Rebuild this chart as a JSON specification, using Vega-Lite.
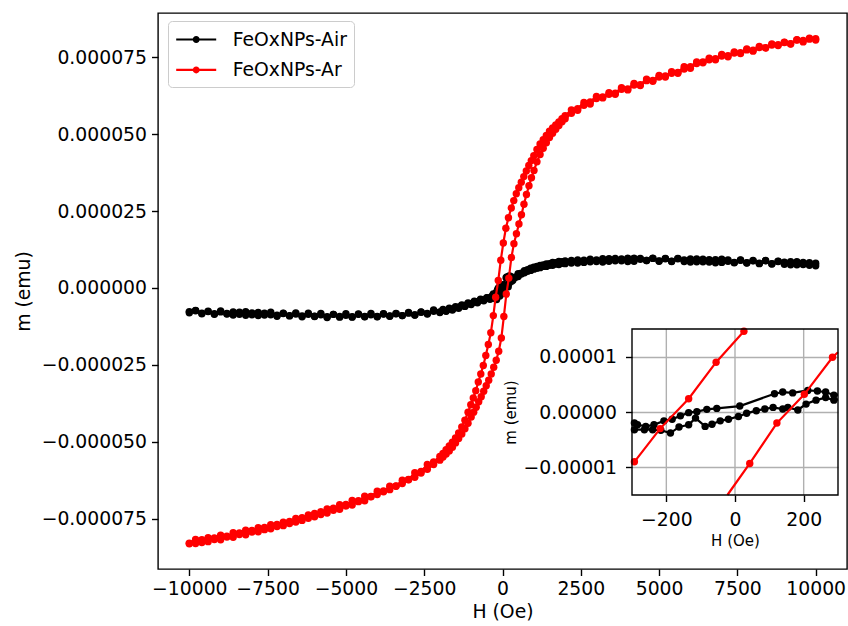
{
"$schema":"https://vega.github.io/schema/vega-lite/v6.json",
"width":689,"height":556,"autosize":"none",
"padding":{"left":158,"top":13,"right":1,"bottom":57},
"config":{"font":"DejaVu Sans","view":{"stroke":"#000000","strokeWidth":1.4},
"axis":{"labelFont":"DejaVu Sans","titleFont":"DejaVu Sans","labelColor":"#000000","titleColor":"#000000","tickColor":"#000000","domainColor":"#000000","titleFontWeight":"normal","labelFontSize":18.8,"titleFontSize":18.8,"tickSize":6.5,"tickWidth":1.4,"domainWidth":1.4,"grid":false,"labelPadding":5,"labelFlush":false,"labelOverlap":false}},
"datasets":{
"air":[
{"H":10000,"m":7.2e-6},{"H":9800,"m":8.2e-6},{"H":9600,"m":7.6e-6},{"H":9400,"m":8.5e-6},{"H":9200,"m":7.5e-6},{"H":9000,"m":8.4e-6},{"H":8800,"m":8.7e-6},{"H":8600,"m":7.9e-6},{"H":8400,"m":8.9e-6},{"H":8200,"m":8.0e-6},{"H":8000,"m":8.8e-6},{"H":7800,"m":8.2e-6},{"H":7600,"m":9.1e-6},{"H":7400,"m":8.3e-6},{"H":7200,"m":8.7e-6},{"H":7000,"m":9.3e-6},{"H":6800,"m":8.2e-6},{"H":6600,"m":9.2e-6},{"H":6400,"m":8.5e-6},{"H":6200,"m":9.4e-6},{"H":6000,"m":8.4e-6},{"H":5800,"m":9.1e-6},{"H":5600,"m":9.6e-6},{"H":5400,"m":8.6e-6},{"H":5200,"m":9.5e-6},{"H":5000,"m":8.7e-6},{"H":4800,"m":9.6e-6},{"H":4600,"m":8.9e-6},{"H":4400,"m":9.3e-6},{"H":4200,"m":9.7e-6},{"H":4000,"m":8.6e-6},{"H":3800,"m":9.4e-6},{"H":3600,"m":8.8e-6},{"H":3400,"m":9.5e-6},{"H":3200,"m":8.4e-6},{"H":3000,"m":9.1e-6},{"H":2800,"m":8.5e-6},{"H":2600,"m":9.0e-6},{"H":2400,"m":8.1e-6},{"H":2200,"m":8.9e-6},{"H":2000,"m":7.9e-6},{"H":1900,"m":8.5e-6},{"H":1800,"m":7.6e-6},{"H":1700,"m":8.2e-6},{"H":1600,"m":7.4e-6},{"H":1500,"m":7.9e-6},{"H":1400,"m":7.0e-6},{"H":1300,"m":7.5e-6},{"H":1200,"m":6.6e-6},{"H":1100,"m":7.0e-6},{"H":1000,"m":6.1e-6},{"H":900,"m":6.4e-6},{"H":800,"m":5.4e-6},{"H":700,"m":5.6e-6},{"H":600,"m":4.5e-6},{"H":500,"m":4.6e-6},{"H":400,"m":3.5e-6},{"H":320,"m":3.4e-6},{"H":288,"m":3.04e-6},{"H":264,"m":3.6e-6},{"H":240,"m":3.8e-6},{"H":212,"m":3.9e-6},{"H":168,"m":3.45e-6},{"H":139,"m":3.6e-6},{"H":115,"m":3.3e-6},{"H":14,"m":1.07e-6},{"H":-53,"m":0.65e-6},{"H":-82,"m":0.48e-6},{"H":-111,"m":0.06e-6},{"H":-135,"m":-0.12e-6},{"H":-159,"m":-0.7e-6},{"H":-183,"m":-1.3e-6},{"H":-207,"m":-1.6e-6},{"H":-236,"m":-2.3e-6},{"H":-260,"m":-2.6e-6},{"H":-284,"m":-2.3e-6},{"H":-293,"m":-2.0e-6},{"H":-330,"m":-2.6e-6},{"H":-400,"m":-3.2e-6},{"H":-500,"m":-3.2e-6},{"H":-600,"m":-3.9e-6},{"H":-700,"m":-3.7e-6},{"H":-800,"m":-4.5e-6},{"H":-900,"m":-4.3e-6},{"H":-1000,"m":-5.1e-6},{"H":-1100,"m":-4.9e-6},{"H":-1200,"m":-5.7e-6},{"H":-1300,"m":-5.5e-6},{"H":-1400,"m":-6.3e-6},{"H":-1500,"m":-6.1e-6},{"H":-1600,"m":-6.9e-6},{"H":-1700,"m":-6.6e-6},{"H":-1800,"m":-7.4e-6},{"H":-1900,"m":-7.0e-6},{"H":-2000,"m":-7.8e-6},{"H":-2200,"m":-7.2e-6},{"H":-2400,"m":-8.3e-6},{"H":-2600,"m":-7.8e-6},{"H":-2800,"m":-8.8e-6},{"H":-3000,"m":-8.0e-6},{"H":-3200,"m":-9.0e-6},{"H":-3400,"m":-8.3e-6},{"H":-3600,"m":-9.2e-6},{"H":-3800,"m":-8.4e-6},{"H":-4000,"m":-9.3e-6},{"H":-4200,"m":-8.3e-6},{"H":-4400,"m":-9.4e-6},{"H":-4600,"m":-8.5e-6},{"H":-4800,"m":-9.5e-6},{"H":-5000,"m":-8.4e-6},{"H":-5200,"m":-9.3e-6},{"H":-5400,"m":-8.6e-6},{"H":-5600,"m":-9.4e-6},{"H":-5800,"m":-8.3e-6},{"H":-6000,"m":-9.2e-6},{"H":-6200,"m":-8.2e-6},{"H":-6400,"m":-9.1e-6},{"H":-6600,"m":-8.1e-6},{"H":-6800,"m":-9.0e-6},{"H":-7000,"m":-8.2e-6},{"H":-7200,"m":-8.9e-6},{"H":-7400,"m":-7.9e-6},{"H":-7600,"m":-8.8e-6},{"H":-7800,"m":-8.0e-6},{"H":-8000,"m":-8.7e-6},{"H":-8200,"m":-7.7e-6},{"H":-8400,"m":-8.6e-6},{"H":-8600,"m":-7.8e-6},{"H":-8800,"m":-8.5e-6},{"H":-9000,"m":-7.5e-6},{"H":-9200,"m":-8.4e-6},{"H":-9400,"m":-7.6e-6},{"H":-9600,"m":-8.2e-6},{"H":-9800,"m":-7.3e-6},{"H":-10000,"m":-7.7e-6},
{"H":-10000,"m":-8.1e-6},{"H":-9800,"m":-7.4e-6},{"H":-9600,"m":-8.4e-6},{"H":-9400,"m":-7.7e-6},{"H":-9200,"m":-8.6e-6},{"H":-9000,"m":-7.8e-6},{"H":-8800,"m":-8.3e-6},{"H":-8600,"m":-8.8e-6},{"H":-8400,"m":-7.9e-6},{"H":-8200,"m":-8.9e-6},{"H":-8000,"m":-8.1e-6},{"H":-7800,"m":-9.0e-6},{"H":-7600,"m":-8.2e-6},{"H":-7400,"m":-8.7e-6},{"H":-7200,"m":-9.2e-6},{"H":-7000,"m":-8.3e-6},{"H":-6800,"m":-9.1e-6},{"H":-6600,"m":-8.5e-6},{"H":-6400,"m":-9.4e-6},{"H":-6200,"m":-8.6e-6},{"H":-6000,"m":-9.3e-6},{"H":-5800,"m":-8.7e-6},{"H":-5600,"m":-9.6e-6},{"H":-5400,"m":-8.6e-6},{"H":-5200,"m":-9.5e-6},{"H":-5000,"m":-8.9e-6},{"H":-4800,"m":-9.4e-6},{"H":-4600,"m":-8.6e-6},{"H":-4400,"m":-9.3e-6},{"H":-4200,"m":-8.7e-6},{"H":-4000,"m":-9.4e-6},{"H":-3800,"m":-8.5e-6},{"H":-3600,"m":-9.1e-6},{"H":-3400,"m":-8.4e-6},{"H":-3200,"m":-9.0e-6},{"H":-3000,"m":-8.2e-6},{"H":-2800,"m":-8.8e-6},{"H":-2600,"m":-7.9e-6},{"H":-2400,"m":-8.5e-6},{"H":-2200,"m":-7.6e-6},{"H":-2000,"m":-8.0e-6},{"H":-1900,"m":-7.3e-6},{"H":-1800,"m":-7.6e-6},{"H":-1700,"m":-6.9e-6},{"H":-1600,"m":-7.2e-6},{"H":-1500,"m":-6.4e-6},{"H":-1400,"m":-6.6e-6},{"H":-1300,"m":-5.8e-6},{"H":-1200,"m":-6.0e-6},{"H":-1100,"m":-5.2e-6},{"H":-1000,"m":-5.4e-6},{"H":-900,"m":-4.6e-6},{"H":-800,"m":-4.8e-6},{"H":-700,"m":-3.9e-6},{"H":-600,"m":-4.2e-6},{"H":-500,"m":-3.3e-6},{"H":-400,"m":-3.7e-6},{"H":-330,"m":-3.1e-6},{"H":-293,"m":-3.2e-6},{"H":-264,"m":-3.2e-6},{"H":-240,"m":-3.2e-6},{"H":-216,"m":-3.3e-6},{"H":-188,"m":-3.8e-6},{"H":-163,"m":-2.7e-6},{"H":-135,"m":-2.3e-6},{"H":-115,"m":-1.1e-6},{"H":-87,"m":-2.6e-6},{"H":-67,"m":-2.2e-6},{"H":-43,"m":-1.6e-6},{"H":-19,"m":-1.3e-6},{"H":10,"m":-0.8e-6},{"H":34,"m":-0.24e-6},{"H":62,"m":0.24e-6},{"H":87,"m":0.54e-6},{"H":111,"m":0.83e-6},{"H":139,"m":0.54e-6},{"H":154,"m":0.83e-6},{"H":183,"m":0.36e-6},{"H":207,"m":1.43e-6},{"H":236,"m":2.14e-6},{"H":264,"m":2.6e-6},{"H":288,"m":2.14e-6},{"H":330,"m":2.5e-6},{"H":400,"m":3.4e-6},{"H":500,"m":3.7e-6},{"H":600,"m":4.8e-6},{"H":700,"m":4.9e-6},{"H":800,"m":5.9e-6},{"H":900,"m":5.7e-6},{"H":1000,"m":6.7e-6},{"H":1100,"m":6.4e-6},{"H":1200,"m":7.3e-6},{"H":1300,"m":7.0e-6},{"H":1400,"m":7.8e-6},{"H":1500,"m":7.4e-6},{"H":1600,"m":8.3e-6},{"H":1700,"m":7.8e-6},{"H":1800,"m":8.6e-6},{"H":1900,"m":8.0e-6},{"H":2000,"m":8.8e-6},{"H":2200,"m":8.1e-6},{"H":2400,"m":9.1e-6},{"H":2600,"m":8.3e-6},{"H":2800,"m":9.3e-6},{"H":3000,"m":8.6e-6},{"H":3200,"m":9.5e-6},{"H":3400,"m":8.7e-6},{"H":3600,"m":9.6e-6},{"H":3800,"m":8.8e-6},{"H":4000,"m":9.7e-6},{"H":4200,"m":8.7e-6},{"H":4400,"m":9.6e-6},{"H":4600,"m":8.9e-6},{"H":4800,"m":9.7e-6},{"H":5000,"m":8.8e-6},{"H":5200,"m":9.6e-6},{"H":5400,"m":8.7e-6},{"H":5600,"m":9.5e-6},{"H":5800,"m":8.6e-6},{"H":6000,"m":9.4e-6},{"H":6200,"m":8.5e-6},{"H":6400,"m":9.3e-6},{"H":6600,"m":8.4e-6},{"H":6800,"m":9.2e-6},{"H":7000,"m":8.3e-6},{"H":7200,"m":9.1e-6},{"H":7400,"m":8.2e-6},{"H":7600,"m":9.0e-6},{"H":7800,"m":8.1e-6},{"H":8000,"m":8.9e-6},{"H":8200,"m":7.9e-6},{"H":8400,"m":8.8e-6},{"H":8600,"m":7.8e-6},{"H":8800,"m":8.6e-6},{"H":9000,"m":7.7e-6},{"H":9200,"m":8.5e-6},{"H":9400,"m":7.5e-6},{"H":9600,"m":8.3e-6},{"H":9800,"m":7.4e-6},{"H":10000,"m":8.0e-6}
],
"ar":[
{"H":10000,"m":81.0e-6},{"H":9800,"m":80.9e-6},{"H":9600,"m":80.5e-6},{"H":9400,"m":80.7e-6},{"H":9200,"m":79.3e-6},{"H":9000,"m":79.9e-6},{"H":8800,"m":79.1e-6},{"H":8600,"m":79.3e-6},{"H":8400,"m":78.1e-6},{"H":8200,"m":78.5e-6},{"H":8000,"m":77.3e-6},{"H":7800,"m":77.7e-6},{"H":7600,"m":76.5e-6},{"H":7400,"m":76.7e-6},{"H":7200,"m":75.5e-6},{"H":7000,"m":75.9e-6},{"H":6800,"m":74.5e-6},{"H":6600,"m":74.7e-6},{"H":6400,"m":73.5e-6},{"H":6200,"m":73.5e-6},{"H":6000,"m":71.9e-6},{"H":5800,"m":71.9e-6},{"H":5600,"m":70.1e-6},{"H":5400,"m":70.3e-6},{"H":5200,"m":68.9e-6},{"H":5000,"m":69.1e-6},{"H":4800,"m":67.5e-6},{"H":4600,"m":67.9e-6},{"H":4400,"m":66.1e-6},{"H":4200,"m":66.5e-6},{"H":4000,"m":64.7e-6},{"H":3800,"m":65.1e-6},{"H":3600,"m":63.3e-6},{"H":3400,"m":63.5e-6},{"H":3200,"m":62.1e-6},{"H":3000,"m":62.3e-6},{"H":2800,"m":60.5e-6},{"H":2600,"m":60.3e-6},{"H":2400,"m":58.3e-6},{"H":2200,"m":57.9e-6},{"H":2000,"m":56.0e-6},{"H":1900,"m":55.0e-6},{"H":1800,"m":54.0e-6},{"H":1700,"m":53.0e-6},{"H":1600,"m":52.0e-6},{"H":1500,"m":51.0e-6},{"H":1400,"m":49.6e-6},{"H":1300,"m":48.2e-6},{"H":1200,"m":46.8e-6},{"H":1100,"m":45.0e-6},{"H":1000,"m":43.0e-6},{"H":920,"m":41.4e-6},{"H":840,"m":39.8e-6},{"H":760,"m":38.0e-6},{"H":680,"m":36.2e-6},{"H":600,"m":34.4e-6},{"H":520,"m":32.6e-6},{"H":440,"m":30.6e-6},{"H":360,"m":28.4e-6},{"H":280,"m":26.0e-6},{"H":190,"m":22.8e-6},{"H":108,"m":19.4e-6},{"H":26,"m":14.6e-6},{"H":-55,"m":9.0e-6},{"H":-135,"m":2.4e-6},{"H":-218,"m":-3.0e-6},{"H":-293,"m":-9.0e-6},{"H":-373,"m":-14.6e-6},{"H":-453,"m":-18.4e-6},{"H":-533,"m":-22.0e-6},{"H":-613,"m":-25.2e-6},{"H":-693,"m":-28.0e-6},{"H":-773,"m":-30.6e-6},{"H":-853,"m":-33.4e-6},{"H":-933,"m":-35.8e-6},{"H":-1013,"m":-38.0e-6},{"H":-1100,"m":-40.4e-6},{"H":-1200,"m":-43.0e-6},{"H":-1300,"m":-45.2e-6},{"H":-1400,"m":-47.2e-6},{"H":-1500,"m":-48.8e-6},{"H":-1600,"m":-50.2e-6},{"H":-1700,"m":-51.4e-6},{"H":-1800,"m":-52.6e-6},{"H":-1900,"m":-53.8e-6},{"H":-2000,"m":-54.8e-6},{"H":-2200,"m":-56.6e-6},{"H":-2400,"m":-57.4e-6},{"H":-2600,"m":-59.7e-6},{"H":-2800,"m":-60.1e-6},{"H":-3000,"m":-62.3e-6},{"H":-3200,"m":-62.5e-6},{"H":-3400,"m":-64.5e-6},{"H":-3600,"m":-64.5e-6},{"H":-3800,"m":-66.3e-6},{"H":-4000,"m":-66.1e-6},{"H":-4200,"m":-67.9e-6},{"H":-4400,"m":-67.7e-6},{"H":-4600,"m":-69.5e-6},{"H":-4800,"m":-69.1e-6},{"H":-5000,"m":-70.9e-6},{"H":-5200,"m":-70.5e-6},{"H":-5400,"m":-72.3e-6},{"H":-5600,"m":-71.9e-6},{"H":-5800,"m":-73.7e-6},{"H":-6000,"m":-73.3e-6},{"H":-6200,"m":-74.9e-6},{"H":-6400,"m":-74.7e-6},{"H":-6600,"m":-76.1e-6},{"H":-6800,"m":-75.9e-6},{"H":-7000,"m":-77.3e-6},{"H":-7200,"m":-76.9e-6},{"H":-7400,"m":-78.3e-6},{"H":-7600,"m":-77.9e-6},{"H":-7800,"m":-79.3e-6},{"H":-8000,"m":-78.9e-6},{"H":-8200,"m":-80.3e-6},{"H":-8400,"m":-79.7e-6},{"H":-8600,"m":-81.1e-6},{"H":-8800,"m":-80.7e-6},{"H":-9000,"m":-81.9e-6},{"H":-9200,"m":-81.3e-6},{"H":-9400,"m":-82.5e-6},{"H":-9600,"m":-81.9e-6},{"H":-9800,"m":-83.1e-6},{"H":-10000,"m":-83.2e-6},
{"H":-10000,"m":-83.0e-6},{"H":-9800,"m":-81.8e-6},{"H":-9600,"m":-82.8e-6},{"H":-9400,"m":-81.2e-6},{"H":-9200,"m":-81.8e-6},{"H":-9000,"m":-80.4e-6},{"H":-8800,"m":-81.0e-6},{"H":-8600,"m":-79.6e-6},{"H":-8400,"m":-80.2e-6},{"H":-8200,"m":-78.8e-6},{"H":-8000,"m":-79.4e-6},{"H":-7800,"m":-78.0e-6},{"H":-7600,"m":-78.6e-6},{"H":-7400,"m":-77.0e-6},{"H":-7200,"m":-77.6e-6},{"H":-7000,"m":-76.2e-6},{"H":-6800,"m":-76.6e-6},{"H":-6600,"m":-75.0e-6},{"H":-6400,"m":-75.6e-6},{"H":-6200,"m":-73.8e-6},{"H":-6000,"m":-74.4e-6},{"H":-5800,"m":-72.8e-6},{"H":-5600,"m":-73.2e-6},{"H":-5400,"m":-71.6e-6},{"H":-5200,"m":-72.0e-6},{"H":-5000,"m":-70.4e-6},{"H":-4800,"m":-70.6e-6},{"H":-4600,"m":-69.2e-6},{"H":-4400,"m":-69.2e-6},{"H":-4200,"m":-67.8e-6},{"H":-4000,"m":-67.2e-6},{"H":-3800,"m":-66.0e-6},{"H":-3600,"m":-65.6e-6},{"H":-3400,"m":-64.4e-6},{"H":-3200,"m":-63.6e-6},{"H":-3000,"m":-62.4e-6},{"H":-2800,"m":-61.6e-6},{"H":-2600,"m":-60.2e-6},{"H":-2400,"m":-59.0e-6},{"H":-2200,"m":-57.4e-6},{"H":-2000,"m":-56.0e-6},{"H":-1900,"m":-55.0e-6},{"H":-1800,"m":-54.0e-6},{"H":-1700,"m":-53.0e-6},{"H":-1600,"m":-51.8e-6},{"H":-1500,"m":-50.4e-6},{"H":-1400,"m":-49.0e-6},{"H":-1300,"m":-47.5e-6},{"H":-1200,"m":-45.8e-6},{"H":-1100,"m":-44.0e-6},{"H":-1000,"m":-42.0e-6},{"H":-920,"m":-40.4e-6},{"H":-840,"m":-38.8e-6},{"H":-760,"m":-37.0e-6},{"H":-680,"m":-35.4e-6},{"H":-600,"m":-33.6e-6},{"H":-520,"m":-31.8e-6},{"H":-440,"m":-30.0e-6},{"H":-360,"m":-28.0e-6},{"H":-280,"m":-25.8e-6},{"H":-200,"m":-23.5e-6},{"H":-120,"m":-20.6e-6},{"H":-37,"m":-16.3e-6},{"H":43,"m":-9.3e-6},{"H":122,"m":-2.0e-6},{"H":202,"m":3.2e-6},{"H":284,"m":9.9e-6},{"H":365,"m":14.4e-6},{"H":445,"m":17.6e-6},{"H":525,"m":20.8e-6},{"H":605,"m":23.8e-6},{"H":685,"m":27.2e-6},{"H":765,"m":30.4e-6},{"H":845,"m":33.2e-6},{"H":925,"m":35.8e-6},{"H":1005,"m":38.2e-6},{"H":1100,"m":41.0e-6},{"H":1200,"m":43.4e-6},{"H":1300,"m":45.4e-6},{"H":1400,"m":47.2e-6},{"H":1500,"m":48.9e-6},{"H":1600,"m":50.3e-6},{"H":1700,"m":51.6e-6},{"H":1800,"m":52.8e-6},{"H":1900,"m":54.0e-6},{"H":2000,"m":55.0e-6},{"H":2200,"m":56.8e-6},{"H":2400,"m":57.8e-6},{"H":2600,"m":59.4e-6},{"H":2800,"m":59.8e-6},{"H":3000,"m":61.6e-6},{"H":3200,"m":61.8e-6},{"H":3400,"m":63.0e-6},{"H":3600,"m":63.0e-6},{"H":3800,"m":64.6e-6},{"H":4000,"m":64.4e-6},{"H":4200,"m":66.0e-6},{"H":4400,"m":65.8e-6},{"H":4600,"m":67.4e-6},{"H":4800,"m":67.2e-6},{"H":5000,"m":68.6e-6},{"H":5200,"m":68.6e-6},{"H":5400,"m":69.8e-6},{"H":5600,"m":69.8e-6},{"H":5800,"m":71.2e-6},{"H":6000,"m":71.4e-6},{"H":6200,"m":73.0e-6},{"H":6400,"m":73.2e-6},{"H":6600,"m":74.2e-6},{"H":6800,"m":74.2e-6},{"H":7000,"m":75.4e-6},{"H":7200,"m":75.2e-6},{"H":7400,"m":76.4e-6},{"H":7600,"m":76.2e-6},{"H":7800,"m":77.4e-6},{"H":8000,"m":77.0e-6},{"H":8200,"m":78.2e-6},{"H":8400,"m":78.0e-6},{"H":8600,"m":79.0e-6},{"H":8800,"m":78.8e-6},{"H":9000,"m":79.8e-6},{"H":9200,"m":79.4e-6},{"H":9400,"m":80.6e-6},{"H":9600,"m":80.0e-6},{"H":9800,"m":81.2e-6},{"H":10000,"m":80.6e-6}
],
"airIn":[
{"b":"d","H":300,"m":3.14e-6},{"b":"d","H":288,"m":3.04e-6},{"b":"d","H":264,"m":3.6e-6},{"b":"d","H":240,"m":3.8e-6},{"b":"d","H":212,"m":3.9e-6},{"b":"d","H":168,"m":3.45e-6},{"b":"d","H":139,"m":3.6e-6},{"b":"d","H":115,"m":3.3e-6},{"b":"d","H":14,"m":1.07e-6},{"b":"d","H":-53,"m":0.65e-6},{"b":"d","H":-82,"m":0.48e-6},{"b":"d","H":-111,"m":0.06e-6},{"b":"d","H":-135,"m":-0.12e-6},{"b":"d","H":-159,"m":-0.7e-6},{"b":"d","H":-183,"m":-1.3e-6},{"b":"d","H":-207,"m":-1.6e-6},{"b":"d","H":-236,"m":-2.3e-6},{"b":"d","H":-260,"m":-2.6e-6},{"b":"d","H":-284,"m":-2.3e-6},{"b":"d","H":-293,"m":-2.0e-6},{"b":"d","H":-300,"m":-2.11e-6},
{"b":"a","H":-300,"m":-3.18e-6},{"b":"a","H":-293,"m":-3.2e-6},{"b":"a","H":-264,"m":-3.2e-6},{"b":"a","H":-240,"m":-3.2e-6},{"b":"a","H":-216,"m":-3.3e-6},{"b":"a","H":-188,"m":-3.8e-6},{"b":"a","H":-163,"m":-2.7e-6},{"b":"a","H":-135,"m":-2.3e-6},{"b":"a","H":-115,"m":-1.1e-6},{"b":"a","H":-87,"m":-2.6e-6},{"b":"a","H":-67,"m":-2.2e-6},{"b":"a","H":-43,"m":-1.6e-6},{"b":"a","H":-19,"m":-1.3e-6},{"b":"a","H":10,"m":-0.8e-6},{"b":"a","H":34,"m":-0.24e-6},{"b":"a","H":62,"m":0.24e-6},{"b":"a","H":87,"m":0.54e-6},{"b":"a","H":111,"m":0.83e-6},{"b":"a","H":139,"m":0.54e-6},{"b":"a","H":154,"m":0.83e-6},{"b":"a","H":183,"m":0.36e-6},{"b":"a","H":207,"m":1.43e-6},{"b":"a","H":236,"m":2.14e-6},{"b":"a","H":264,"m":2.6e-6},{"b":"a","H":288,"m":2.14e-6},{"b":"a","H":300,"m":2.27e-6}
],
"arIn":[
{"b":"d","H":32.8,"m":15e-6},{"b":"d","H":26,"m":14.6e-6},{"b":"d","H":-55,"m":9.0e-6},{"b":"d","H":-135,"m":2.4e-6},{"b":"d","H":-218,"m":-3.0e-6},{"b":"d","H":-293,"m":-9.0e-6},{"b":"d","H":-300,"m":-9.49e-6},
{"b":"a","H":-22.1,"m":-15e-6},{"b":"a","H":43,"m":-9.3e-6},{"b":"a","H":122,"m":-2.0e-6},{"b":"a","H":202,"m":3.2e-6},{"b":"a","H":284,"m":9.9e-6},{"b":"a","H":300,"m":10.8e-6}
]
},
"layer":[
{"layer":[
{"data":{"name":"air"},"mark":{"type":"line","strokeWidth":2.2},
"encoding":{
"x":{"field":"H","type":"quantitative","scale":{"domain":[-11000,11000],"nice":false,"zero":false},"axis":{"orient":"bottom","values":[-10000,-7500,-5000,-2500,0,2500,5000,7500,10000],"format":"d","title":"H (Oe)","domain":false,"labelPadding":4,"titlePadding":4}},
"y":{"field":"m","type":"quantitative","scale":{"domain":[-9.14e-5,8.94e-5],"nice":false,"zero":false},"axis":{"orient":"left","values":[-7.5e-5,-5e-5,-2.5e-5,0,2.5e-5,5e-5,7.5e-5],"format":".6f","title":"m (emu)","domain":false,"labelPadding":5,"titlePadding":8}},
"color":{"datum":"FeOxNPs-Air","type":"nominal","scale":{"domain":["FeOxNPs-Air","FeOxNPs-Ar"],"range":["#000000","#ff0000"]},
"legend":{"title":null,"orient":"none","legendX":10,"legendY":8,"symbolType":"M-2,0L2,0M0.24,0A0.24,0.24,0,1,1,-0.24,0A0.24,0.24,0,1,1,0.24,0","symbolSize":400,"symbolStrokeWidth":2.2,"labelFontSize":18.8,"labelFont":"DejaVu Sans","labelColor":"#000000","padding":7,"rowPadding":8.4,"symbolOffset":9.7,"labelOffset":25,"strokeColor":"#cccccc","fillColor":"rgba(255,255,255,0.8)","cornerRadius":4,
"encode":{"symbols":{"update":{"fill":{"scale":"color","field":"value"},"stroke":{"scale":"color","field":"value"},"fillOpacity":{"value":1},"opacity":{"value":1}}}}}},
"order":{"value":null}}},
{"data":{"name":"air"},"mark":{"type":"circle","size":55,"opacity":1},
"encoding":{"x":{"field":"H","type":"quantitative"},"y":{"field":"m","type":"quantitative"},"color":{"datum":"FeOxNPs-Air","type":"nominal"}}},
{"data":{"name":"ar"},"mark":{"type":"line","strokeWidth":2.2},
"encoding":{"x":{"field":"H","type":"quantitative"},"y":{"field":"m","type":"quantitative"},"color":{"datum":"FeOxNPs-Ar","type":"nominal"},"order":{"value":null}}},
{"data":{"name":"ar"},"mark":{"type":"circle","size":55,"opacity":1},
"encoding":{"x":{"field":"H","type":"quantitative"},"y":{"field":"m","type":"quantitative"},"color":{"datum":"FeOxNPs-Ar","type":"nominal"}}}
]},
{"layer":[
{"data":{"values":[{}]},"mark":{"type":"rule","color":"#b0b0b0","strokeWidth":1.4},
"encoding":{"x":{"datum":-200,"type":"quantitative"},"y":{"datum":-1.5e-5,"type":"quantitative"},"y2":{"datum":1.5e-5}}},
{"data":{"values":[{}]},"mark":{"type":"rule","color":"#b0b0b0","strokeWidth":1.4},
"encoding":{"x":{"datum":0,"type":"quantitative"},"y":{"datum":-1.5e-5,"type":"quantitative"},"y2":{"datum":1.5e-5}}},
{"data":{"values":[{}]},"mark":{"type":"rule","color":"#b0b0b0","strokeWidth":1.4},
"encoding":{"x":{"datum":200,"type":"quantitative"},"y":{"datum":-1.5e-5,"type":"quantitative"},"y2":{"datum":1.5e-5}}},
{"data":{"name":"airIn"},"mark":{"type":"line","strokeWidth":2.2},
"encoding":{
"x":{"field":"H","type":"quantitative","scale":{"domain":[-300,300],"range":[474,680],"nice":false,"zero":false},"axis":{"orient":"bottom","offset":-74,"values":[-200,0,200],"format":"d","grid":false,"title":"H (Oe)","titleFontSize":15,"domain":false,"labelPadding":9,"titlePadding":4}},
"y":{"field":"m","type":"quantitative","scale":{"domain":[-1.5e-5,1.5e-5],"range":[482,316],"nice":false,"zero":false},"axis":{"orient":"left","offset":-474,"values":[-1e-5,0,1e-5],"format":".5f","grid":true,"gridColor":"#b0b0b0","gridWidth":1.4,"title":"m (emu)","titleFontSize":15,"domain":false,"labelPadding":9,"titlePadding":5}},
"color":{"datum":"FeOxNPs-Air","type":"nominal"},"detail":{"field":"b"},"order":{"value":null}}},
{"data":{"name":"airIn"},"transform":[{"filter":"abs(datum.H) < 299 && abs(datum.m) < 1.49e-5"}],"mark":{"type":"circle","size":55,"opacity":1},
"encoding":{"x":{"field":"H","type":"quantitative"},"y":{"field":"m","type":"quantitative"},"color":{"datum":"FeOxNPs-Air","type":"nominal"}}},
{"data":{"name":"arIn"},"mark":{"type":"line","strokeWidth":2.2},
"encoding":{"x":{"field":"H","type":"quantitative"},"y":{"field":"m","type":"quantitative"},"color":{"datum":"FeOxNPs-Ar","type":"nominal"},"detail":{"field":"b"},"order":{"value":null}}},
{"data":{"name":"arIn"},"transform":[{"filter":"abs(datum.H) < 299 && abs(datum.m) < 1.49e-5"}],"mark":{"type":"circle","size":55,"opacity":1},
"encoding":{"x":{"field":"H","type":"quantitative"},"y":{"field":"m","type":"quantitative"},"color":{"datum":"FeOxNPs-Ar","type":"nominal"}}},
{"data":{"values":[{}]},"mark":{"type":"rect","filled":false,"stroke":"#000000","strokeWidth":1.4},
"encoding":{"x":{"datum":-300,"type":"quantitative"},"x2":{"datum":300},"y":{"datum":-1.5e-5,"type":"quantitative"},"y2":{"datum":1.5e-5}}}
]}
],
"resolve":{"scale":{"x":"independent","y":"independent"},"axis":{"x":"independent","y":"independent"}}
}
